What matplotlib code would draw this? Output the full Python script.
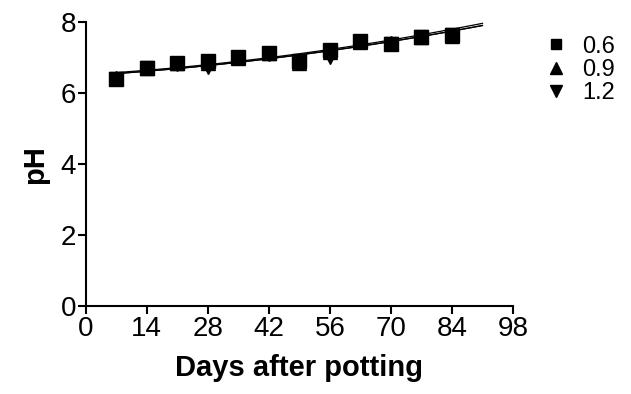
import numpy as np
import matplotlib
matplotlib.use('Agg')
import matplotlib.pyplot as plt

plt.rcParams['font.family'] = ['Liberation Sans', 'DejaVu Sans']

days = [7, 14, 21, 28, 35, 42, 49, 56, 63, 70, 77, 84]
ph_06 = [6.40, 6.70, 6.85, 6.90, 7.01, 7.13, 6.90, 7.21, 7.46, 7.38, 7.58, 7.63]
ph_09 = [6.42, 6.72, 6.84, 6.86, 7.00, 7.12, 6.86, 7.15, 7.44, 7.40, 7.57, 7.62]
ph_12 = [6.40, 6.70, 6.83, 6.73, 6.98, 7.10, 6.86, 7.02, 7.45, 7.38, 7.58, 7.64]
labels = ['0.6', '0.9', '1.2']
markers = ['s', '^', 'v']

# second order fits (a, b, c)
fit_06 = [6.52, 0.0075, 0.000092]
fit_09 = [6.49, 0.0078, 0.000085]
fit_12 = [6.49, 0.0078, 0.000085]
fit_range = [7, 91]

fig = plt.figure(figsize=(6.31, 3.94), dpi=100)
ax = fig.add_axes([0.136, 0.223, 0.677, 0.721])

xfit = np.linspace(fit_range[0], fit_range[1], 200)
for vals, fit, lab, mk in zip([ph_06, ph_09, ph_12], [fit_06, fit_09, fit_12], labels, markers):
    ax.plot(days, vals, linestyle='none', marker=mk, color='black',
            markersize=9.5 if mk == 's' else 10, label=lab)
    a, b, c = fit
    ax.plot(xfit, a + b * xfit + c * xfit ** 2, color='black', linewidth=0.9)

ax.set_xlim(0, 98)
ax.set_ylim(0, 8)
ax.set_xticks(np.arange(0, 99, 14))
ax.set_yticks([0, 2, 4, 6, 8])
ax.spines['top'].set_visible(False)
ax.spines['right'].set_visible(False)
for s in ['left', 'bottom']:
    ax.spines[s].set_linewidth(1.5)
ax.tick_params(width=1.5, length=6, labelsize=20, pad=1)
ax.set_xlabel('Days after potting', fontsize=21, fontweight='bold', labelpad=9)
ax.set_ylabel('pH', fontsize=21, fontweight='bold', labelpad=8)

ax.legend(loc='upper left', bbox_to_anchor=(1.074, 0.952), frameon=False,
          fontsize=17, handlelength=1.0, handletextpad=0.6, labelspacing=0.05,
          borderaxespad=0, borderpad=0, markerscale=0.8)

fig.savefig('out.png', dpi=100)
